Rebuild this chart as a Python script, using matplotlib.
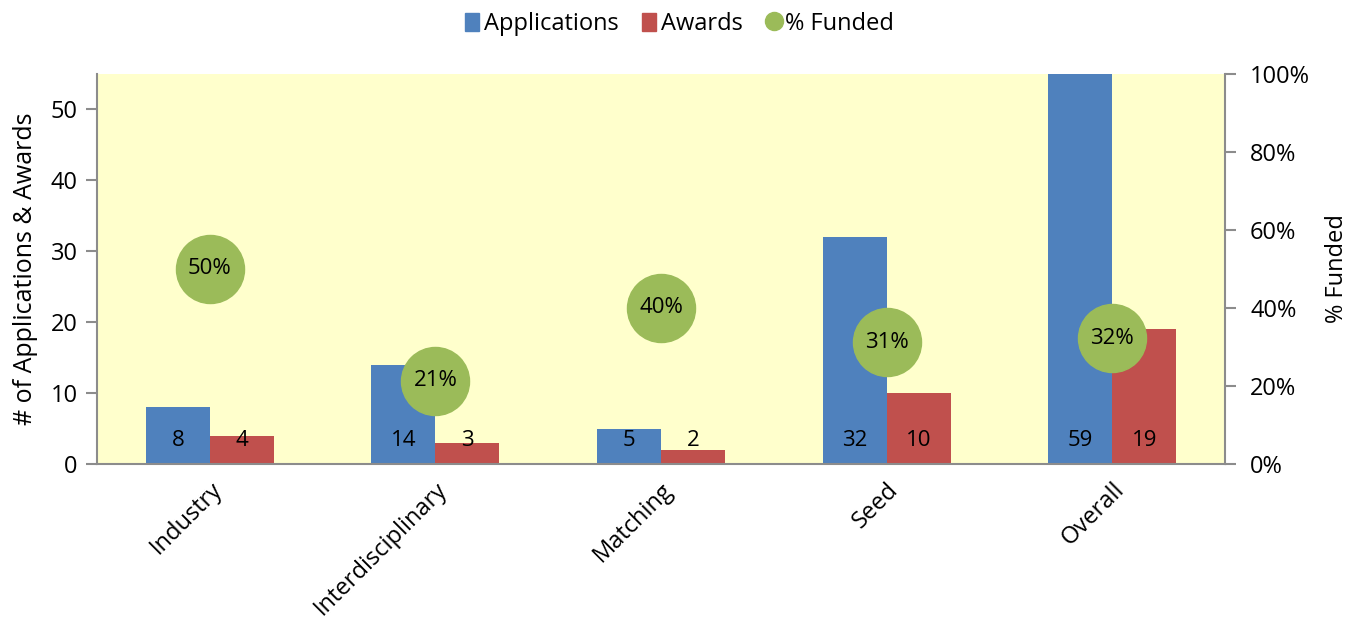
import matplotlib
matplotlib.use("Agg")
import matplotlib.pyplot as plt
import numpy as np
from matplotlib.lines import Line2D
from matplotlib.patches import Patch

categories = ["Industry", "Interdisciplinary", "Matching", "Seed", "Overall"]
applications = [8, 14, 5, 32, 59]
awards = [4, 3, 2, 10, 19]
pct_funded = [50.0, 21.4, 40.0, 31.25, 32.2]
pct_labels = ["50%", "21%", "40%", "31%", "32%"]

BLUE = "#4F81BD"
RED = "#C0504D"
GREEN = "#9BBB59"
BG = "#FFFFCC"
GRAY = "#8C8C8C"

plt.rcParams['font.family'] = ['Open Sans', 'DejaVu Sans']

fig = plt.figure(figsize=(13.59, 6.26), dpi=100)
ax = fig.add_axes([0.0714, 0.2588, 0.83, 0.623])
ax.set_facecolor(BG)

x = np.arange(len(categories))
w = 0.284
ax.bar(x - w / 2, applications, width=w, color=BLUE, zorder=2)
ax.bar(x + w / 2, awards, width=w, color=RED, zorder=2)
ax.set_xlim(-0.5, len(categories) - 0.5)
ax.set_ylim(0, 55)
ax.set_yticks([0, 10, 20, 30, 40, 50])
for xi, a, b in zip(x, applications, awards):
    ax.text(xi - w / 2, 3.25, str(a), ha="center", va="center", fontsize=16, zorder=3)
    ax.text(xi + w / 2, 3.25, str(b), ha="center", va="center", fontsize=16, zorder=3)

ax.set_xticks(x)
ax.set_xticklabels(categories, rotation=45, ha="right", rotation_mode="anchor", fontsize=17)
ax.tick_params(axis="x", length=0, pad=10)
ax.tick_params(axis="y", labelsize=17, color=GRAY, length=8, width=1.5, pad=6)
ax.set_ylabel("# of Applications & Awards", fontsize=18)
ax.yaxis.set_label_coords(-0.052, 0.5)
for s in ["top", "right"]:
    ax.spines[s].set_visible(False)
for s in ["left", "bottom"]:
    ax.spines[s].set_color(GRAY)
    ax.spines[s].set_linewidth(1.5)

ax2 = ax.twinx()
ax2.set_ylim(0, 100)
ax2.set_yticks([0, 20, 40, 60, 80, 100])
ax2.set_yticklabels([f"{v}%" for v in [0, 20, 40, 60, 80, 100]])
ax2.tick_params(axis="y", labelsize=17, color=GRAY, length=8, width=1.5, pad=10)
ax2.set_ylabel("% Funded", fontsize=17)
ax2.yaxis.set_label_coords(1.089, 0.5)
for s in ["top", "left", "bottom"]:
    ax2.spines[s].set_visible(False)
ax2.spines["right"].set_color(GRAY)
ax2.spines["right"].set_linewidth(1.5)
ax2.scatter(x, pct_funded, s=2400, color=GREEN, zorder=4, clip_on=False)
for xi, p, lbl in zip(x, pct_funded, pct_labels):
    ax2.text(xi, p, lbl, ha="center", va="center", fontsize=16, zorder=5)

handles = [Patch(color=BLUE, label="Applications"),
           Patch(color=RED, label="Awards"),
           Line2D([], [], marker="o", linestyle="", markersize=13, color=GREEN, label="% Funded")]
fig.legend(handles=handles, loc="upper center", bbox_to_anchor=(0.5, 1.015), ncol=3,
           frameon=False, fontsize=17, handlelength=0.6, handleheight=0.8,
           handletextpad=0.2, columnspacing=1.0)

fig.savefig("out.png", dpi=100)
